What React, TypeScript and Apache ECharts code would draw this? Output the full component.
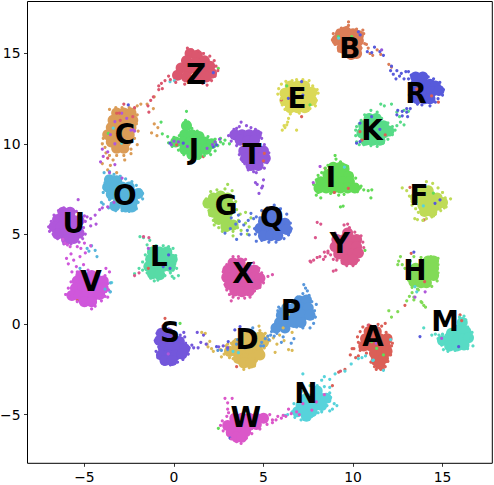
import React, { useEffect, useRef } from "react";
import * as echarts from "echarts";

const letters = "ABCDEFGHIJKLMNOPQRSTUVWXYZ".split("");
const colors = ["#db5f57","#db7d57","#db9c57","#dbba57","#dbd957","#bfdb57","#a0db57","#82db57","#63db57","#57db69","#57db88","#57dba6","#57dbc5","#57d3db","#57b5db","#5796db","#5778db","#575adb","#7357db","#9257db","#b057db","#cf57db","#db57c9","#db57aa","#db578c","#db576e"];
const xTicks = [-5, 0, 5, 10, 15];
const yTicks = [-5, 0, 5, 10, 15];
const labelX = [11.12,9.83,-2.74,4.08,6.87,13.69,2.91,13.46,8.77,1.12,11.06,-0.84,15.14,7.37,-2.74,6.54,5.47,13.52,-0.22,4.36,-5.59,-4.64,4.02,3.86,9.27,1.23];
const labelY = [-0.7,15.25,10.54,-0.87,12.48,7.16,6.56,3.0,8.11,9.66,10.76,3.78,0.13,-3.86,7.11,0.79,5.89,12.76,-0.48,9.38,5.56,2.39,-5.19,2.79,4.5,13.81];

const coreA = [[10.9,-0.4],[11.3,-0.4],[10.7,-0.8],[11.1,-0.8],[11.5,-0.8],[11.9,-0.8],[10.6,-1.2],[11.0,-1.2],[11.4,-1.2],[11.8,-1.2],[11.2,-1.6],[11.6,-1.6],[11.9,-1.5],[11.3,-2.0],[11.7,-1.9],[11.5,-2.2]];
const coreB = [[9.3,16.1],[9.6,16.2],[10,16.1],[10.3,16.0],[9.1,15.75],[9.5,15.7],[9.9,15.7],[10.3,15.7],[9.4,15.3],[9.8,15.3],[10.2,15.3],[9.9,14.95],[10.2,15.0]];
const coreC = [[-3.2,11.7],[-2.8,11.7],[-2.4,11.7],[-3.4,11.3],[-3.0,11.3],[-2.6,11.3],[-2.3,11.3],[-3.5,10.9],[-3.1,10.9],[-2.7,10.9],[-2.4,10.9],[-3.7,10.5],[-3.3,10.5],[-2.9,10.5],[-2.5,10.5],[-3.5,10.1],[-3.1,10.1],[-2.7,10.1],[-3.2,9.75],[-2.8,9.75]];
const coreD = [[3.1,-1.5],[3.5,-1.5],[3.9,-1.5],[4.3,-1.5],[4.7,-1.5],[3.5,-1.1],[3.9,-1.1],[4.3,-1.1],[4.7,-1.1],[5.0,-1.0],[4.0,-0.7],[4.4,-0.7],[4.8,-0.7],[3.6,-1.9],[4.0,-1.9],[4.4,-1.9],[4.8,-1.7],[3.9,-2.15],[4.3,-2.15]];
const coreE = [[6.5,13.2],[6.9,13.2],[7.3,13.2],[6.2,12.8],[6.6,12.8],[7.0,12.8],[7.4,12.8],[7.7,12.85],[6.2,12.4],[6.6,12.4],[7,12.4],[7.4,12.4],[7.7,12.4],[6.5,12.0],[6.9,12.0],[7.3,12.0]];
const coreF = [[13.8,7.4],[14.2,7.4],[13.5,7.0],[13.9,7.0],[14.3,7.0],[14.7,7.0],[13.9,6.6],[14.3,6.6],[14.7,6.6],[15.0,6.75],[14.0,6.25],[14.4,6.25]];
const coreG = [[2.2,7.0],[2.6,7.1],[3,7.0],[1.9,6.7],[2.3,6.6],[2.7,6.6],[3.1,6.6],[2.2,6.2],[2.6,6.2],[3.0,6.2],[2.5,5.8],[2.9,5.8],[2.9,5.4],[3.3,5.5]];
const coreH = [[14.2,3.5],[14.5,3.5],[13.5,3.1],[13.9,3.1],[14.2,3.1],[14.5,3.1],[13.4,2.7],[13.8,2.7],[14.2,2.7],[14.5,2.7],[13.4,2.35],[13.8,2.3],[14.1,2.3]];
const coreI = [[8.9,8.7],[9.3,8.7],[9.5,8.6],[8.6,8.3],[9,8.3],[9.4,8.3],[9.75,8.2],[8.2,7.9],[8.6,7.9],[9,7.9],[9.4,7.9],[9.8,7.9],[8.1,7.55],[8.5,7.55],[8.9,7.55],[9.3,7.55],[9.7,7.55],[10.1,7.55]];
const coreJ = [[0.7,11.0],[0.6,10.5],[1,10.5],[1.4,10.4],[0.1,10.1],[0.5,10.1],[0.9,10.1],[1.3,10.1],[1.7,10.1],[2.1,10.0],[0.6,9.7],[1,9.7],[1.4,9.7],[1.8,9.7],[1.0,9.4],[1.3,9.4]];
const coreK = [[10.9,11.4],[11.3,11.4],[10.6,11],[11,11],[11.4,11],[11.7,11],[10.5,10.6],[10.9,10.6],[11.3,10.6],[11.7,10.6],[12,10.7],[10.7,10.2],[11.1,10.2],[11.5,10.2]];
const coreL = [[-1.2,4.0],[-0.8,4.0],[-0.4,4.0],[-1.3,3.6],[-0.9,3.6],[-0.5,3.6],[-0.1,3.6],[-1.4,3.2],[-1,3.2],[-0.6,3.2],[-0.2,3.2],[-1.2,2.8],[-0.8,2.75]];
const coreM = [[16.1,0.1],[15.5,-0.5],[15.9,-0.4],[16.3,-0.4],[15,-0.9],[15.4,-0.9],[15.8,-0.9],[16.2,-0.8],[16.45,-0.75],[15.4,-1.2],[15.8,-1.2],[16.2,-1.15]];
const coreN = [[8,-3.7],[7.4,-4.1],[7.8,-4.1],[8.2,-4.1],[8.5,-4.1],[7.1,-4.5],[7.5,-4.5],[7.9,-4.5],[8.25,-4.5],[6.9,-4.85],[7.3,-4.85],[7.7,-4.85],[7.4,-5.1]];
const coreO = [[-3.6,8],[-3.2,7.95],[-3.7,7.6],[-3.3,7.6],[-2.9,7.6],[-2.5,7.6],[-3.5,7.2],[-3.1,7.2],[-2.7,7.2],[-2.3,7.2],[-2.0,7.25],[-3.1,6.8],[-2.7,6.8],[-2.3,6.8],[-3.3,6.55],[-2.7,6.5],[-2.35,6.5]];
const coreP = [[7,1.3],[7.4,1.35],[6.3,0.9],[6.7,0.9],[7.1,0.9],[7.5,0.9],[6,0.5],[6.4,0.5],[6.8,0.5],[7.2,0.5],[7.6,0.5],[5.9,0.1],[6.3,0.1],[6.7,0.1],[7.1,0.1],[5.7,-0.2],[6.2,-0.2]];
const coreQ = [[5.3,6.1],[5.7,6.1],[5,5.7],[5.4,5.7],[5.8,5.7],[6.2,5.6],[4.8,5.3],[5.2,5.3],[5.6,5.3],[6,5.3],[6.3,5.25],[5,4.9],[5.4,4.9],[5.8,4.9]];
const coreR = [[13.5,13.7],[13.9,13.7],[13.5,13.3],[13.9,13.3],[14.3,13.3],[14.6,13.2],[13.6,12.9],[14,12.9],[14.4,12.9],[14.8,12.95],[13.6,12.5],[14,12.5],[14.3,12.5]];
const coreS = [[-0.7,-0.5],[-0.3,-0.5],[-0.8,-0.9],[-0.4,-0.9],[0,-0.9],[0.3,-0.95],[-0.6,-1.3],[-0.2,-1.3],[0.2,-1.3],[0.6,-1.35],[-0.7,-1.7],[-0.3,-1.7],[0.1,-1.7],[0.45,-1.65],[-0.5,-2],[-0.1,-2]];
const coreT = [[3.4,10.5],[3.8,10.5],[4.2,10.5],[4.6,10.5],[3.7,10.2],[4.1,10.15],[4.5,10.2],[3.9,9.6],[4.3,9.6],[4.7,9.6],[5,9.6],[4,9.2],[4.4,9.2],[4.8,9.2],[5.1,9.2],[4.3,8.8],[4.7,8.8]];
const coreU = [[-6.2,6.2],[-5.8,6.2],[-6.5,5.8],[-6.1,5.8],[-5.7,5.8],[-5.3,5.75],[-6.7,5.4],[-6.3,5.4],[-5.9,5.4],[-5.5,5.4],[-6.5,5],[-6.1,5],[-5.7,5],[-5.3,5.05],[-6,4.7],[-5.6,4.75]];
const coreV = [[-5.2,2.7],[-4.6,2.7],[-5.4,2.4],[-5,2.4],[-4.6,2.4],[-4.2,2.4],[-3.95,2.4],[-5.5,2],[-5.1,2],[-4.7,2],[-4.3,2],[-3.95,2],[-5.7,1.6],[-5.3,1.6],[-4.9,1.6],[-4.5,1.6],[-4.15,1.65],[-5,1.25],[-4.6,1.25]];
const coreW = [[3.4,-5.2],[3.8,-5.2],[4.2,-5.2],[4.6,-5.2],[5,-5.2],[3,-5.6],[3.4,-5.6],[3.8,-5.6],[4.2,-5.6],[4.6,-5.55],[3.2,-6],[3.6,-6],[4,-5.95],[3.5,-6.25],[3.8,-6.25]];
const coreX = [[3.3,3.4],[3.7,3.4],[3,3],[3.4,3],[3.8,3],[4.2,3],[4.5,3],[2.95,2.6],[3.3,2.6],[3.7,2.6],[4.1,2.6],[4.5,2.6],[4.8,2.55],[3.1,2.2],[3.5,2.2],[3.9,2.2],[4.3,2.2],[4.6,2.2],[3.4,1.85],[3.8,1.8],[4.2,1.85]];
const coreY = [[9.7,5.05],[9.1,4.7],[9.5,4.7],[9.9,4.7],[10.2,4.7],[9,4.3],[9.4,4.3],[9.8,4.3],[10.2,4.3],[9.2,3.9],[9.6,3.9],[10,3.9],[10.3,3.95],[9.6,3.55],[10,3.55]];
const coreZ = [[0.9,15],[1.3,14.9],[0.7,14.6],[1.2,14.5],[1.7,14.6],[2,14.3],[0.4,14.2],[0.8,14.1],[1.3,14.1],[1.7,14.1],[2.1,13.9],[0.2,13.8],[0.7,13.7],[1.3,13.7],[1.8,13.7]];

const dotsA = [[10.3,-1],[10.25,-0.7],[10.4,-0.4],[10.55,-0.15],[10.9,-0.05],[11.4,0],[11.6,-0.1],[11.85,-0.45],[12.1,-0.7],[12.2,-1.05],[12.05,-1.3],[12.1,-1.7],[11.95,-2.05],[11.8,-2.35],[11.55,-2.5],[11.2,-2.35],[11,-2.1],[10.75,-1.6],[10.4,-1.45],[9.95,-1.35],[9.85,-1.7],[10.15,-1.85],[10.3,-1.75],[9.2,-2.65],[8.85,-3.4],[9.55,-2.5],[11.8,0.05],[12.9,1.05],[10.05,-1.35],[12.15,-1.2],[11.3,-2.5],[11.7,-2.5],[6.0,12.43],[7.13,11.5],[13.18,7.59],[13.97,5.78],[8.44,8.64],[9.74,7.53],[8.96,7.3],[5.05,9.47],[5.0,9.05],[13.56,13.02],[14.39,12.65],[14.77,12.3],[-1.43,3.1],[13.25,3.93],[14.0,2.36],[15.98,0.52],[16.07,0.2],[-5.4,1.31],[-0.5,0.33],[3.5,-2.35],[10.39,10.67],[10.5,10.2],[11.8,10.49],[1.64,9.29],[-3.2,11.69],[0.15,9.94]];
const dotsB = [[9.75,16.75],[9.75,16.55],[9.65,16.45],[9.35,16.4],[8.9,16.1],[8.85,15.75],[9,15.5],[9.2,15.15],[9.5,14.95],[9.85,14.75],[10.45,15.3],[10.65,15.55],[10.6,16.1],[10.55,16.3],[10.75,15.5],[10.85,15.3],[10.95,15.0],[11.1,14.9],[11.35,15.2],[11.55,14.95],[10.2,16.35],[12.0,14.4],[12.15,14.25]];
const dotsC = [[-3.6,11.9],[-3.25,12],[-2.9,12],[-2.5,12],[-2.2,11.95],[-2.05,12.1],[-1.85,12.2],[-1.5,12.2],[-1.1,12.6],[-1.15,11.95],[-1.1,11.1],[-1.25,10.6],[-0.95,10.45],[-0.9,10.9],[-2.05,11.6],[-2.1,11.1],[-2.0,10.7],[-2.2,10.3],[-3.95,10.3],[-4,10],[-3.85,9.8],[-3.8,9.5],[-3.6,9.35],[-3.2,9.35],[-2.8,9.35],[-2.4,9.45],[-2.75,9.1],[-3.4,9.1],[-4.0,8.9],[-3.7,8.55],[-3.2,8.4],[-2.4,9.7],[-2.05,9.95],[-3.55,8.8]];
const dotsD = [[2.6,-1.4],[2.8,-1.65],[2.65,-1.8],[2.9,-1.2],[3.2,-1.05],[3,-1.1],[3.45,-0.85],[3.9,-0.3],[4.8,-0.35],[5.2,-0.7],[5.35,-0.9],[5.05,-1.3],[4.95,-1.75],[4.6,-2],[4.5,-2.3],[4.2,-2.4],[3.9,-2.5],[3.3,-1.9],[3.1,-1.85],[1.85,-1.1],[2,-0.95],[1.9,-1.25],[2.2,-1.5],[1.75,-0.5],[1.55,-0.45],[2.1,-1.35],[6.4,0.55],[6.1,-0.2],[5.9,-0.6],[6.15,-0.9],[5.75,-1.1],[5.55,-0.75],[6.4,-1.4],[6.6,-0.45],[4.75,-0.1],[5.65,-1.55],[5.1,-0.5],[6.6,-1.45]];
const dotsE = [[5.85,13.05],[5.8,12.75],[6.0,13.3],[6.25,13.45],[6.6,13.5],[6.85,13.55],[7.2,13.55],[7.55,13.5],[7.75,13.2],[8.0,13],[8.05,12.8],[7.95,12.4],[7.9,12.1],[7.6,11.95],[7.5,11.85],[7.0,11.7],[6.5,11.65],[6.2,11.9],[6.05,12.15],[6.0,12.5],[6.4,11.4],[6.35,11.2],[6.3,11.05],[6.2,10.9],[6.05,10.75],[6.85,10.75],[6.15,11.0]];
const dotsF = [[12.75,7.55],[13,7.4],[13.15,7.1],[13.3,6.8],[13.3,6.6],[13.55,7.3],[14.1,7.9],[14.45,7.8],[14.75,7.55],[15,7.3],[15.15,7.0],[15.45,6.95],[15.1,6.45],[15.2,6.5],[14.9,6.3],[14.6,6.1],[14.4,5.95],[14.1,5.85],[13.9,5.75],[13.6,5.8],[13.45,5.85],[13.65,6.2],[13.5,6.4],[14.5,6.0]];
const dotsG = [[1.75,6.7],[1.8,6.95],[2.05,7.35],[2.4,7.45],[2.85,7.5],[3.25,7.4],[3.45,6.8],[3.2,6.4],[1.95,6.3],[2,6.05],[2.2,5.75],[2.25,5.5],[2.5,5.35],[2.7,5.15],[3.3,5.15],[3.55,5.35],[3.75,5.2],[4.1,5.0],[3.6,5.75],[4.0,6.2],[4.3,5.9],[3.7,6.1],[3.0,7.75],[3.5,6.35],[4.0,5.6],[4.2,5.4],[3.3,4.9]];
const dotsH = [[12.5,3.3],[12.55,3.5],[12.75,3.3],[12.9,3.1],[13.1,3.0],[13.1,2.45],[13.3,2.05],[13.6,1.95],[13.75,2.15],[14.4,2.1],[14.7,2.4],[14.75,2.85],[14.75,3.3],[14.75,3.65],[14.35,3.75],[13.8,3.7],[13.4,3.75],[13.2,3.5],[13.3,1.75],[13.15,1.55],[13,1.3],[13.4,1.5],[13.65,1.9],[13.85,1.2],[14.05,0.95],[12.15,0.4],[12.0,0.75],[12.5,0.7],[13.8,1.25],[13.95,1.05],[12.65,3.75],[13.4,1.35]];
const dotsI = [[9,9.35],[9.05,9.15],[9.3,9.0],[8.6,8.8],[8.45,8.65],[9.7,8.75],[9.9,8.35],[10.15,8.1],[8.05,8.25],[8.25,8.4],[7.95,8.0],[7.8,7.75],[8.05,7.3],[7.95,7.15],[8.75,7.25],[9.2,7.15],[9.5,7.2],[10.2,7.75],[10.4,7.55],[10.6,7.45],[10.85,7.4],[11.05,7.45],[10.45,7.65],[9.3,6.5],[9.45,6.55],[8.2,7.0],[10.25,7.35],[11.0,7.0],[6.3,13.2],[7.6,12.15],[9.18,15.94],[9.93,15.94],[14.49,7.26],[0.34,0.05],[2.48,14.18],[2.48,-5.76],[-3.67,10.58],[11.04,-0.96],[11.7,-1.7],[11.32,-1.33],[10.67,4.1]];
const dotsJ = [[0.65,11.3],[0.8,11.2],[0.75,10.8],[1,10.85],[1.3,10.7],[1.6,10.45],[1.9,10.4],[2.3,10.25],[2.6,10.1],[2.85,10.2],[3.1,10],[2.45,9.9],[2.3,9.6],[2.05,9.4],[1.7,9.35],[1.4,9.2],[1.15,9.1],[0.55,9.4],[0.25,9.65],[-0.1,9.85],[-0.3,10.05],[-0.35,10.4],[0,10.35],[0.3,10.45],[2.75,10.0],[0.7,11.8],[-0.72,11.2],[-0.65,10.55],[2.6,10.3]];
const dotsK = [[10.15,10.75],[10.15,10.45],[10.2,10.95],[10.35,11.1],[10.45,11.3],[10.65,11.6],[11,11.85],[11.35,11.75],[11.6,11.4],[11.95,11.15],[12.2,10.95],[12.35,10.75],[12.2,10.5],[11.95,10.25],[11.7,10.05],[11.35,9.85],[11,9.9],[10.6,9.95],[10.35,9.95],[10.2,10.1],[11.55,12.2],[11.75,12.1],[12.15,12.2],[12.45,11.75],[12.6,11.5],[12.65,11.2],[12.85,11.05],[12.45,11.0],[12.85,11.85],[13.1,11.8]];
const dotsL = [[-1.5,4.4],[-1.35,4.65],[-1.7,4.8],[-1.9,4.85],[-1.25,4.2],[-1.6,3.85],[-1.45,3.75],[-1.75,3.45],[-1.95,3.1],[-1.75,3.0],[-1.5,2.85],[-1.3,2.55],[-1.1,2.4],[-0.9,2.45],[-0.5,2.7],[-0.2,2.85],[-0.1,2.65],[0,2.55],[0.25,2.7],[-0.05,3],[0.05,3.35],[0.1,3.8],[-0.05,4.2],[-0.3,4.3],[-0.6,4.35],[-1,4.35],[-2.2,2.8],[0.15,3.1]];
const dotsM = [[14.4,-0.6],[14.6,-0.55],[14.8,-0.6],[15,-0.55],[15.2,-0.6],[14.75,-0.8],[14.95,-1.15],[15.05,-1.4],[15.3,-1.5],[15.7,-1.45],[16,-1.35],[16.4,-1.35],[16.7,-1.2],[16.6,-0.8],[16.65,-0.45],[16.4,-0.15],[16.3,0.25],[16.2,0.45],[16.0,-0.05],[15.8,-0.1],[13.95,-0.2],[16.2,-0.1],[15.95,0.4]];
const dotsN = [[7.2,-2.75],[8.4,-2.9],[8.7,-3.05],[8.25,-3.1],[8.7,-3.5],[8.4,-3.45],[8.0,-3.4],[7.6,-3.4],[7.15,-3.7],[6.7,-4.4],[6.6,-4.85],[6.35,-5],[6.2,-5.05],[6.75,-5.15],[7.1,-5.3],[7.7,-5.1],[8.05,-4.9],[8.25,-4.85],[8.55,-4.5],[8.7,-4.25],[8.95,-4.4],[9.1,-4.5],[8.85,-4.7],[8.7,-4.8],[8.5,-3.9],[8.75,-4.05],[8.7,-3.8],[9.0,-2.75],[9.55,-2.6],[9.9,-2.2],[10.3,-1.9],[10.5,-1.85],[10.7,-1.75],[11.7,-2.55],[11.1,-2.0],[12.1,-0.85],[9.2,15.85],[13.93,6.56],[9.52,8.7],[-0.22,13.44],[0.02,13.5],[-3.39,10.86],[-2.92,10.03],[3.3,-1.5],[3.6,-1.57],[13.46,2.08],[13.56,1.8],[11.14,-1.98],[-3.48,2.31],[-3.58,1.81]];
const dotsO = [[-3.9,8.4],[-3.6,8.45],[-3.35,8.3],[-3.0,8.2],[-2.7,8.05],[-2.35,7.9],[-2.1,7.7],[-1.9,7.45],[-1.75,7.25],[-1.75,6.95],[-2,6.75],[-2.1,6.4],[-2.5,6.25],[-2.9,6.3],[-3.25,6.3],[-3.65,6.45],[-3.95,6.65],[-4.05,6.75],[-3.6,6.9],[-3.95,7.3],[-3.9,7.55],[-3.85,7.85],[-3.6,7.1],[-3.5,6.7],[-5.25,3.1],[-4.75,4.05],[-4.4,4.1],[-4.85,4.2],[-4.6,4.35],[-4.3,3.75],[-3.55,2.3],[-3.55,1.8],[-3.85,1.95]];
const dotsP = [[7.25,2.2],[7.35,2.0],[7.45,1.85],[7.2,1.7],[7.55,1.6],[6.9,1.5],[6.6,1.3],[7.7,1.25],[7.95,1.1],[7.85,0.75],[7.9,0.4],[7.8,0.05],[7.6,-0.2],[7.2,-0.2],[6.85,-0.15],[5.95,0.85],[5.85,0.95],[5.65,-0.05],[5.45,-0.4],[5.25,-0.65],[5.1,-0.8],[4.9,-1.0],[4.85,-1.2],[5.0,-1.2],[5.3,-0.85],[5.6,-0.65],[5.4,-0.6],[6.1,-0.7],[6,-1.0],[6.7,-0.8],[6.55,-1.05],[5.75,-0.5],[4.4,-0.2],[3.55,-0.85],[3.0,-1.4],[2.45,-1.45],[2.65,-1.45],[3.5,-1.1],[3.75,-0.6],[3.95,-1.3],[5.8,0.75],[6.2,-0.05]];
const dotsQ = [[4.9,6.3],[5.2,6.45],[5.6,6.6],[5.95,6.4],[6.3,6.1],[6.5,5.6],[6.55,5.3],[6.4,4.95],[6.15,4.75],[5.7,4.55],[5.3,4.55],[4.9,4.65],[4.6,4.6],[4.55,5.0],[4.7,5.5],[4.5,5.3],[4.45,5.85],[4.8,5.9],[3.45,5.55],[3.65,5.7],[3.2,5.9],[3.9,5.5],[4.15,5.75],[4.1,5.2],[3.75,5.0],[3.5,4.7],[2.85,5.05],[3.6,6.05],[3.15,5.3],[4.3,6.15],[4.6,5.95],[4.2,4.95]];
const dotsR = [[12.95,14.0],[12.7,13.9],[12.6,13.75],[12.85,13.6],[13.1,14.0],[13.1,13.6],[13.25,13.8],[14.2,13.7],[14.5,13.6],[14.85,13.4],[15.05,13.0],[15.0,12.7],[14.75,12.5],[14.6,12.3],[14.3,12.1],[13.85,12.15],[13.35,12.4],[13.15,12.7],[13.2,13.1],[13.15,12.35],[13.2,11.95],[13.0,11.75],[12.75,11.8],[12.5,11.85],[12.45,11.6],[12.75,11.55],[13.05,11.5],[13,11.95],[12.15,14.3],[12.1,14.05],[12.25,13.85],[12.4,13.6],[11.5,15.1],[11.2,15.35],[11.05,15.05],[11.7,14.9],[10.8,15.1],[13.6,12.2],[12.45,14.05],[10.39,11.14],[11.04,11.5],[10.39,10.12],[10.2,10.03],[11.5,10.8],[7.13,13.44],[6.39,12.52],[7.2,12.7],[10.4,16.03],[10.3,16.2],[14.58,6.7],[14.86,6.89],[-0.22,10.03],[0.52,10.03],[2.2,9.84],[2.38,9.94],[-0.3,3.84],[-0.22,3.1],[-0.6,3.2],[2.38,-1.24],[3.03,-0.96],[3.4,-0.31],[3.69,-0.13],[13.4,4.0],[13.74,-0.68],[15.9,-1.24],[2.2,13.94],[3.13,-6.3],[-2.55,12.15]];
const dotsS = [[-1.05,-0.9],[-0.95,-0.5],[-1.0,-1.0],[-0.6,-0.2],[-0.6,-0.1],[-0.45,0.05],[-0.3,-0.25],[0.1,-0.5],[0.35,-0.6],[0.6,-0.7],[0.65,-1.05],[1,-1.15],[0.85,-1.3],[1.1,-1.3],[1.35,-1.3],[0.8,-1.65],[0.5,-1.95],[0.2,-2.1],[-0.2,-2.25],[-0.55,-2.2],[-0.9,-1.85],[-1,-1.5],[-0.85,-1.25],[1.3,-0.45],[1.65,-0.6],[1.5,-1.0],[1.8,-1.1],[2.5,-1.25],[2.75,-1.2],[3.0,-1.3],[-0.25,-0.4],[0.55,-0.45]];
const dotsT = [[3.05,10.45],[3.2,10.15],[3.35,10.8],[3.5,10.85],[3.65,10.95],[3.75,11.2],[4.05,11.0],[4.3,10.9],[4.55,10.8],[4.85,10.6],[4.9,10.3],[3.5,9.9],[3.75,9.75],[3.65,9.4],[3.75,9.15],[3.95,8.9],[4.15,8.55],[4.45,8.45],[4.6,8.4],[5.05,8.65],[5.2,8.95],[5.3,9.5],[5.05,9.95],[4.55,7.85],[4.65,7.75],[4.9,7.55],[4.75,7.25],[4.95,7.65],[0.75,9.85],[0.25,10.1],[2.15,9.95],[0.0,10.15],[-0.15,9.95],[2.55,10.25],[2.3,10.1],[1.85,9.75],[11.6,15.2],[5.0,8.0]];
const dotsU = [[-6.7,6.05],[-6.45,6.3],[-6.15,6.45],[-5.85,6.4],[-5.45,6.25],[-5.0,6.0],[-4.85,5.95],[-4.65,5.85],[-4.4,6.05],[-4.15,6.35],[-4.0,6.45],[-3.7,6.5],[-4.35,5.55],[-4.65,5.45],[-4.95,5.7],[-5.05,5.35],[-4.95,5.0],[-5.1,4.75],[-5.3,4.55],[-5.75,4.45],[-6.15,4.45],[-6.5,4.75],[-6.95,5.15],[-7,5.4],[-6.85,5.7],[-6.75,5.0],[-5.35,6.9],[-3.35,6.75],[-3.0,6.85],[-3.3,8.85],[-3.6,8.4],[-4.1,9.0],[-3.95,9.3],[-3.7,9.55],[-2.4,10.75],[-2.2,10.7],[-2.9,8.1],[-3.3,10.0],[-3.55,10.5],[-4.0,9.7],[8.16,8.74],[7.78,7.85],[-1.43,4.2],[13.46,1.5],[14.03,1.8],[14.95,-0.78],[-2.92,11.69],[-2.64,11.41],[-3.3,11.23],[-2.27,10.77],[11.3,-1.05],[-0.32,-1.64]];
const dotsV = [[-6.2,4.7],[-6.1,4.5],[-5.95,4.4],[-5.8,4.3],[-5.75,3.9],[-6.0,3.65],[-5.9,3.35],[-5.6,3.55],[-5.45,3.2],[-5.25,3.75],[-5.05,3.3],[-4.8,3.0],[-5.7,2.9],[-5.4,2.9],[-5.0,2.9],[-4.2,2.7],[-3.85,2.7],[-3.7,2.25],[-3.65,1.9],[-3.85,1.55],[-4.05,1.3],[-4.4,1.0],[-4.6,0.85],[-4.95,1.05],[-5.4,1.25],[-5.85,1.5],[-6.05,1.65],[-5.9,2.0],[-5.75,2.35],[-3.6,2.9],[-5.0,4.5],[-5.2,4.2],[-4.65,4.35],[-4.95,3.95],[-5.3,2.85],[-3.8,3.1],[-3.7,1.5],[-5.2,1.2],[-5.4,4.3]];
const dotsW = [[3.25,-4.1],[2.85,-4.1],[3.0,-4.35],[3.0,-4.7],[3.05,-4.9],[2.95,-5.1],[2.7,-5.35],[2.6,-5.6],[2.75,-5.9],[3.0,-6.1],[3.2,-6.35],[3.5,-6.5],[3.75,-6.6],[4.05,-6.3],[4.35,-6.05],[4.8,-5.8],[5.2,-5.55],[5.5,-5.3],[5.8,-5.1],[6.0,-5.2],[6.25,-5.1],[6.55,-4.95],[6.85,-4.85],[7.0,-5.0],[6.4,-4.7],[5.35,-5.0],[5.5,-5.45],[5.7,-5.3],[6.1,-5.05],[7.7,-4.75],[7.95,-4.3],[8.4,-3.9],[7.2,-4.4]];
const dotsX = [[2.75,2.9],[2.8,2.55],[2.85,2.2],[2.95,1.9],[3.1,1.65],[3.3,1.5],[3.6,1.45],[3.95,1.45],[4.25,1.5],[4.5,1.85],[4.8,2.05],[5.0,2.3],[5.25,2.65],[4.9,2.85],[4.75,3.1],[4.45,3.4],[4.15,3.3],[4.0,3.6],[3.3,3.75],[3.6,3.75],[2.95,3.3],[3.15,3.55],[5.5,2.75],[3.2,1.3]];
const dotsY = [[9.5,5.5],[9.7,5.55],[9.8,5.35],[10.1,5.1],[10.45,4.9],[10.55,4.55],[10.6,4.25],[10.5,3.95],[10.3,3.55],[10,3.25],[9.65,3.25],[9.4,3.4],[9.1,3.55],[8.75,3.85],[8.45,3.75],[8.15,3.75],[8,3.7],[7.8,3.55],[7.6,3.5],[8.4,4.0],[8.6,4.05],[8.9,3.6],[9.0,5.05],[8.2,5.55],[8.0,5.65],[7.9,4.8],[8.35,3.6],[9.05,3.0],[8.9,2.95],[8.6,3.95],[7.65,3.45],[-1.95,2.85],[-1.7,4.85],[-1.4,4.8],[-2.2,2.7]];
const dotsZ = [[0.75,15.3],[1,15.2],[1.35,15.15],[1.65,15],[2.0,14.85],[2.25,14.6],[2.35,14.3],[2.45,14.05],[2.3,13.75],[2.1,13.5],[1.85,13.25],[1.6,13.35],[0.6,13.3],[0.1,13.4],[-0.2,13.55],[-0.3,13.75],[-0.5,13.5],[-0.7,13.35],[-0.85,13.2],[-0.65,13.05],[-0.85,13],[-1.15,12.6],[-1.3,12.4],[-1.45,12.1],[-1.4,11.75],[-2.2,12.0],[-2.8,12.2],[-3.05,11.7],[-3.0,11.3],[-2.3,11.5],[-2.9,10.3],[-3.7,9.2],[11,-0.1],[10.85,-0.05],[9.3,-2.6],[-0.6,-0.1]];

const core = [coreA,coreB,coreC,coreD,coreE,coreF,coreG,coreH,coreI,coreJ,coreK,coreL,coreM,coreN,coreO,coreP,coreQ,coreR,coreS,coreT,coreU,coreV,coreW,coreX,coreY,coreZ];
const dots = [dotsA,dotsB,dotsC,dotsD,dotsE,dotsF,dotsG,dotsH,dotsI,dotsJ,dotsK,dotsL,dotsM,dotsN,dotsO,dotsP,dotsQ,dotsR,dotsS,dotsT,dotsU,dotsV,dotsW,dotsX,dotsY,dotsZ];

const tickFormat = (v: number) => (v < 0 ? "\u2212" + Math.abs(v) : String(v));

function axis(min: number, max: number, ticks: number[]) {
  return {
    type: "value",
    min,
    max,
    splitLine: { show: false },
    axisLine: { show: false, onZero: false },
    axisTick: { show: true, length: 3.5, lineStyle: { color: "#000", width: 0.8 }, customValues: ticks },
    axisLabel: { show: true, color: "#000", fontSize: 13.9, fontFamily: "DejaVu Sans", margin: 7, formatter: tickFormat, customValues: ticks },
  };
}

export default function App() {
  const ref = useRef<HTMLDivElement>(null);
  useEffect(() => {
    const chart = echarts.init(ref.current!, null, { renderer: "svg" });
    const series: any[] = [];
    letters.forEach((l, i) => {
      series.push({ name: l + " body", type: "scatter", data: core[i], symbolSize: 11, itemStyle: { color: colors[i], opacity: 1 }, silent: true, z: 2 });
    });
    letters.forEach((l, i) => {
      series.push({ name: l, type: "scatter", data: dots[i], symbolSize: 3.2, itemStyle: { color: colors[i], opacity: 1 }, silent: true, z: 3 });
    });
    series.push({
      name: "labels",
      type: "scatter",
      data: letters.map((l, i) => ({ name: l, value: [labelX[i], labelY[i]] })),
      symbolSize: 1,
      itemStyle: { color: "transparent", opacity: 1 },
      silent: true,
      z: 5,
      label: {
        show: true,
        position: "inside",
        formatter: "{b}",
        color: "#000",
        opacity: 1,
        fontFamily: "DejaVu Sans",
        fontWeight: "bold",
        fontSize: 27.8,
      },
    });
    chart.setOption({
      animation: false,
      backgroundColor: "#fff",
      grid: { show: true, left: 27.5, top: 1.5, width: 464.8, height: 461.8, borderColor: "#000", borderWidth: 1, containLabel: false, outerBoundsMode: "none" },
      xAxis: axis(-8.18, 17.78, xTicks),
      yAxis: axis(-7.7, 17.88, yTicks),
      series,
    });
    return () => chart.dispose();
  }, []);
  return <div ref={ref} style={{ position: "absolute", left: 0, top: 0, width: 494, height: 485 }} />;
}
